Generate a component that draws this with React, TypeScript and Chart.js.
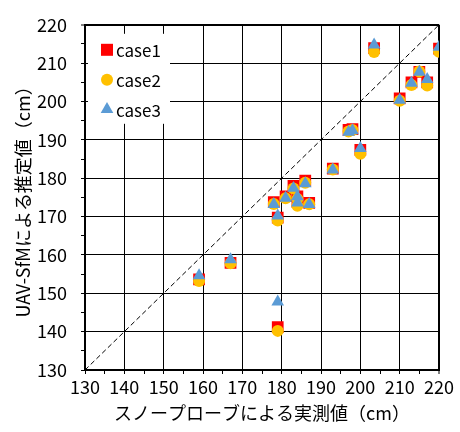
import React, { useEffect, useRef } from "react";
import { Chart, registerables } from "chart.js";

Chart.register(...registerables);

// measured snow depth (x) and the three estimate cases (y)
const measured = [159, 167, 179, 178, 179, 181, 183, 184, 184, 186, 187, 193, 197, 198, 200, 203.5, 210, 213, 215, 217, 220];
const case1 = [153.6, 157.9, 141.2, 173.8, 169.7, 175.3, 178.0, 175.3, 173.8, 179.4, 173.6, 182.5, 192.6, 192.8, 187.4, 213.9, 200.8, 205.0, 207.7, 205.0, 213.8];
const case2 = [153.2, 157.8, 140.2, 173.3, 169.0, 174.8, 177.3, 174.6, 172.8, 178.8, 173.2, 182.3, 192.2, 192.6, 186.4, 212.9, 200.2, 204.3, 207.8, 204.2, 213.0];
const case3 = [154.6, 158.8, 147.8, 173.2, 170.2, 174.8, 177.4, 175.2, 173.6, 178.6, 173.2, 182.2, 192.0, 192.4, 187.8, 214.8, 200.4, 204.8, 207.7, 205.8, 214.2];
const seriesNames = ["case1", "case2", "case3"];
const seriesColors = ["#FF0000", "#FFC000", "#5B9BD5"];
const axisMin = 130;
const axisMax = 220;
const xTitle = "スノープローブによる実測値（cm）";
const yTitle = "UAV-SfMによる推定値（cm）";

const FONT = "'Noto Sans CJK JP', 'Noto Sans', sans-serif";

const toPoints = (ys: number[]) => measured.map((x, i) => ({ x, y: ys[i] }));

const legendPlugin = {
  id: "insideLegend",
  beforeDatasetsDraw(chart: any) {
    const { ctx, chartArea } = chart;
    const bx = chartArea.left + 3;
    const by = chartArea.top + 9;
    ctx.save();
    ctx.fillStyle = "#fff";
    ctx.fillRect(bx, by, 82, 90);
    const mx = chartArea.left + 22;
    const rows = [chartArea.top + 25, chartArea.top + 55, chartArea.top + 84.5];
    // square
    ctx.fillStyle = seriesColors[0];
    ctx.fillRect(mx - 6, rows[0] - 6, 12, 12);
    // circle
    ctx.fillStyle = seriesColors[1];
    ctx.beginPath();
    ctx.arc(mx, rows[1], 6, 0, Math.PI * 2);
    ctx.fill();
    // triangle
    ctx.fillStyle = seriesColors[2];
    ctx.beginPath();
    const r = 7.3;
    ctx.moveTo(mx, rows[2] - r);
    ctx.lineTo(mx + r * Math.sin((2 * Math.PI) / 3), rows[2] + r / 2);
    ctx.lineTo(mx - r * Math.sin((2 * Math.PI) / 3), rows[2] + r / 2);
    ctx.closePath();
    ctx.fill();
    ctx.fillStyle = "#000";
    ctx.font = `17px ${FONT}`;
    ctx.textBaseline = "middle";
    ctx.textAlign = "left";
    seriesNames.forEach((n, i) => ctx.fillText(n, mx + 9, rows[i] + 1));
    ctx.restore();
  },
};

const gridColor = (c: any) => (c.tick && c.tick.value % 10 === 0 ? "#000" : "rgba(0,0,0,0)");
const gridWidth = (c: any) => (c.tick && c.tick.value === axisMax ? 2 : 1);
const tickCb = (v: any) => (Number(v) % 10 === 0 ? String(v) : "");

export default function App() {
  const ref = useRef<HTMLCanvasElement>(null);
  useEffect(() => {
    document.body.style.margin = "0";
    const chart = new Chart(ref.current as HTMLCanvasElement, {
      type: "scatter",
      data: {
        datasets: [
          {
            type: "line",
            label: "y=x",
            data: [
              { x: axisMin, y: axisMin },
              { x: axisMax, y: axisMax },
            ],
            borderColor: "#000",
            borderWidth: 1,
            borderDash: [5, 3],
            pointRadius: 0,
            fill: false,
            order: 10,
          } as any,
          {
            label: seriesNames[0],
            data: toPoints(case1),
            pointStyle: "rect",
            pointRadius: 8.3,
            pointBorderWidth: 0,
            backgroundColor: seriesColors[0],
            borderColor: seriesColors[0],
            order: 3,
          },
          {
            label: seriesNames[1],
            data: toPoints(case2),
            pointStyle: "circle",
            pointRadius: 6,
            pointBorderWidth: 0,
            backgroundColor: seriesColors[1],
            borderColor: seriesColors[1],
            order: 2,
          },
          {
            label: seriesNames[2],
            data: toPoints(case3),
            pointStyle: "triangle",
            pointRadius: 7.3,
            pointBorderWidth: 0,
            backgroundColor: seriesColors[2],
            borderColor: seriesColors[2],
            order: 1,
          },
        ],
      },
      options: {
        animation: false,
        responsive: false,
        events: [],
        layout: { padding: { left: 0, top: 15, right: 21, bottom: 0 } },
        plugins: { legend: { display: false }, tooltip: { enabled: false } },
        scales: {
          x: {
            type: "linear",
            min: axisMin,
            max: axisMax,
            afterFit: (s: any) => {
              s.height = 62;
            },
            ticks: {
              stepSize: 5,
              autoSkip: false,
              maxRotation: 0,
              padding: 2,
              color: "#000",
              font: { family: FONT, size: 18 },
              callback: tickCb,
            },
            grid: {
              color: gridColor,
              lineWidth: gridWidth,
              tickColor: "#000",
              tickWidth: 1,
              tickLength: 4,
            },
            border: { color: "#000", width: 2 },
            title: {
              display: true,
              text: xTitle,
              color: "#000",
              font: { family: FONT, size: 18 },
              padding: { top: 0, bottom: 8 },
            },
          },
          y: {
            type: "linear",
            min: axisMin,
            max: axisMax,
            afterFit: (s: any) => {
              s.width = 85;
            },
            ticks: {
              stepSize: 5,
              autoSkip: false,
              padding: 14,
              color: "#000",
              font: { family: FONT, size: 18 },
              callback: tickCb,
            },
            grid: {
              color: gridColor,
              lineWidth: gridWidth,
              tickColor: "#000",
              tickWidth: 1,
              tickLength: 4,
            },
            border: { color: "#000", width: 2 },
            title: {
              display: true,
              text: yTitle,
              color: "#000",
              font: { family: FONT, size: 18 },
              padding: { top: 12, bottom: 0 },
            },
          },
        },
      },
      plugins: [legendPlugin],
    });
    return () => chart.destroy();
  }, []);
  return (
    <div style={{ position: "fixed", left: 0, top: 0, width: 460, height: 432, background: "#fff" }}>
      <canvas ref={ref} width={460} height={432} style={{ width: 460, height: 432 }} />
    </div>
  );
}
